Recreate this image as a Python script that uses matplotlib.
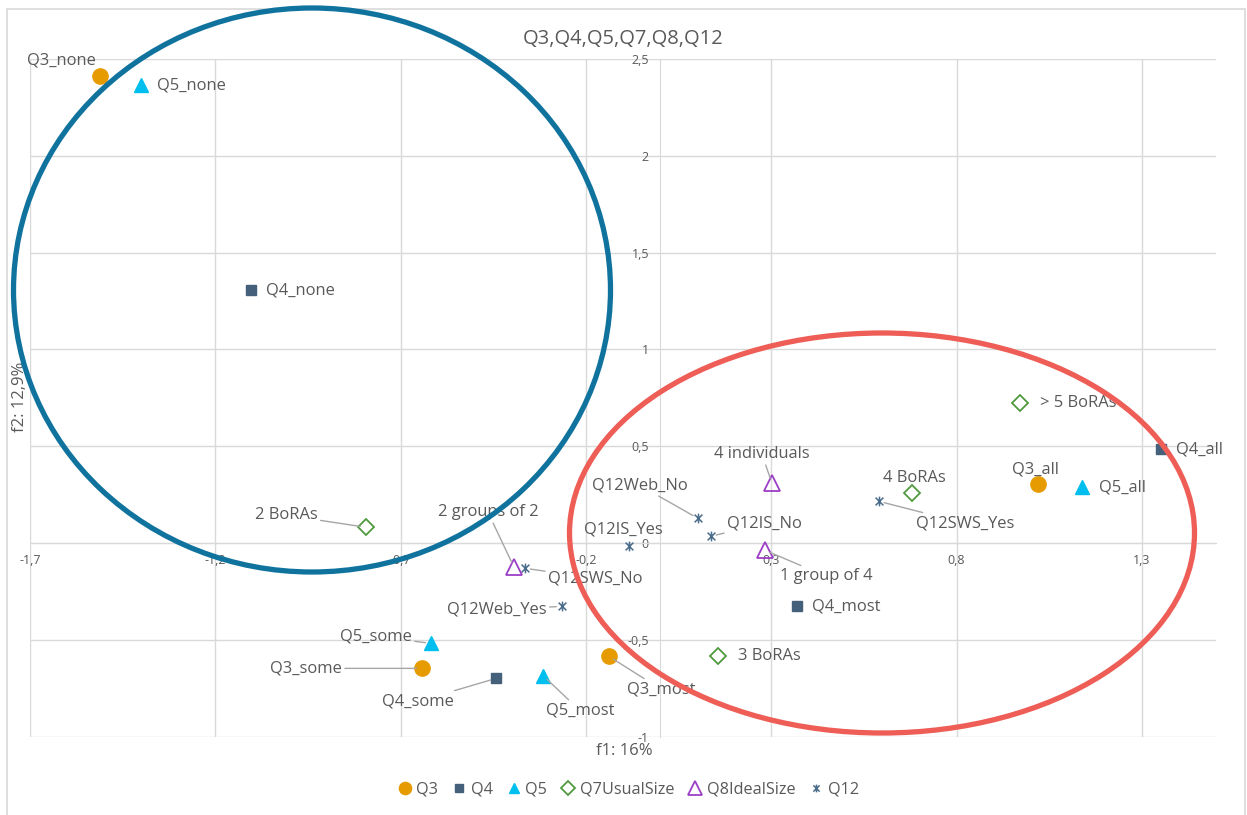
import matplotlib
matplotlib.use("Agg")
import matplotlib.pyplot as plt
from matplotlib.patches import Ellipse, Rectangle
from matplotlib.path import Path

plt.rcParams['font.family'] = ['Open Sans', 'DejaVu Sans']

# ---------------- data ----------------
q3_labels = ["Q3_none", "Q3_some", "Q3_most", "Q3_all"]
q3_x = [-1.511, -0.642, -0.138, 1.019]
q3_y = [2.412, -0.648, -0.586, 0.303]

q4_labels = ["Q4_none", "Q4_some", "Q4_most", "Q4_all"]
q4_x = [-1.104, -0.443, 0.369, 1.351]
q4_y = [1.306, -0.700, -0.328, 0.484]

q5_labels = ["Q5_none", "Q5_some", "Q5_most", "Q5_all"]
q5_x = [-1.401, -0.618, -0.316, 1.138]
q5_y = [2.365, -0.519, -0.685, 0.287]

q7_labels = ["2 BoRAs", "3 BoRAs", "4 BoRAs", "> 5 BoRAs"]
q7_x = [-0.794, 0.156, 0.679, 0.971]
q7_y = [0.081, -0.586, 0.256, 0.722]

q8_labels = ["2 groups of 2", "4 individuals", "1 group of 4"]
q8_x = [-0.394, 0.302, 0.283]
q8_y = [-0.126, 0.308, -0.038]

q12_labels = ["Q12Web_No", "Q12IS_No", "Q12IS_Yes", "Q12SWS_No", "Q12Web_Yes", "Q12SWS_Yes"]
q12_x = [0.102, 0.137, -0.084, -0.365, -0.265, 0.590]
q12_y = [0.127, 0.034, -0.018, -0.131, -0.328, 0.215]

x_ticks = [-1.7, -1.2, -0.7, -0.2, 0.3, 0.8, 1.3]
y_ticks = [-1, -0.5, 0, 0.5, 1, 1.5, 2, 2.5]

title = "Q3,Q4,Q5,Q7,Q8,Q12"
x_label = "f1: 16%"
y_label = "f2: 12,9%"

# ---------------- layout: label offsets (pixels), alignment, leader ----------------
label_layout = {
    "Q3_none": (-39, 16, "center", False),
    "Q5_none": (16, 0, "left", False),
    "Q4_none": (15, 0, "left", False),
    "2 BoRAs": (-48, 12, "right", True),
    "2 groups of 2": (-26, 55, "center", True),
    "Q12SWS_No": (23, -10, "left", True),
    "Q12Web_Yes": (-15, -3, "right", True),
    "Q12IS_Yes": (-6, 17, "center", False),
    "Q12Web_No": (-58, 33, "center", True),
    "Q12IS_No": (16, 13, "left", True),
    "4 individuals": (-10, 29, "center", True),
    "1 group of 4": (15, -26, "left", True),
    "Q4_most": (15, 0, "left", False),
    "3 BoRAs": (20, 0, "left", False),
    "Q12SWS_Yes": (37, -22, "left", True),
    "4 BoRAs": (3, 15, "center", False),
    "> 5 BoRAs": (20, 0, "left", False),
    "Q3_all": (-2, 15, "center", False),
    "Q5_all": (17, 0, "left", False),
    "Q4_all": (15, 0, "left", False),
    "Q5_some": (-19, 7, "right", True),
    "Q3_some": (-80, 0, "right", True),
    "Q4_some": (-42, -23, "right", True),
    "Q5_most": (37, -35, "center", True),
    "Q3_most": (18, -33, "left", True),
}

W, H = 1247, 815
fig = plt.figure(figsize=(W / 100, H / 100), dpi=100)
fig.patch.set_facecolor("white")
ax = fig.add_axes([30 / W, 1 - 736.5 / H, (1216 - 30) / W, (736.5 - 59) / H])

text_col = "#595959"
grid_col = "#D9D9D9"
lab_fs = 11.9

# chart-area border
fig.patches.append(Rectangle((7 / W, -0.05), (1245 - 7) / W, (H - 9) / H + 0.05,
                             transform=fig.transFigure, fill=False,
                             edgecolor="#D9D9D9", linewidth=1.2, zorder=0))

star = Path([(-1, -1), (1, 1), (-1, 1), (1, -1), (0, -1.25), (0, 1.25)],
            [Path.MOVETO, Path.LINETO, Path.MOVETO, Path.LINETO, Path.MOVETO, Path.LINETO])

series = [
    ("Q3", q3_x, q3_y, q3_labels, dict(marker="o", ms=11, mfc="#E69B00", mec="#E69B00")),
    ("Q4", q4_x, q4_y, q4_labels, dict(marker="s", ms=6.5, mfc="#44607A", mec="#44607A")),
    ("Q5", q5_x, q5_y, q5_labels, dict(marker="^", ms=9.5, mfc="#00BFEF", mec="#00BFEF")),
    ("Q7UsualSize", q7_x, q7_y, q7_labels, dict(marker="D", ms=8.5, mfc="none", mec="#4F9A3D", mew=1.3)),
    ("Q8IdealSize", q8_x, q8_y, q8_labels, dict(marker="^", ms=12, mfc="none", mec="#9B3FC6", mew=1.3)),
    ("Q12", q12_x, q12_y, q12_labels, dict(marker=star, ms=7, mfc="none", mec="#4A6D8C", mew=1.1)),
]

handles = []
for name, xs, ys, labs, st in series:
    h, = ax.plot(xs, ys, linestyle="none", label=name, zorder=5, **st)
    handles.append(h)
    for x, y, lab in zip(xs, ys, labs):
        dx, dy, ha, leader = label_layout[lab]
        kw = {}
        if leader:
            kw["arrowprops"] = dict(arrowstyle="-", color="#A6A6A6", lw=1.0,
                                    shrinkA=0, shrinkB=4)
        ax.annotate(lab, (x, y), xytext=(dx, dy), textcoords="offset pixels",
                    ha=ha, va="center", fontsize=lab_fs, color=text_col, zorder=6, **kw)

ax.set_xlim(-1.7, 1.5)
ax.set_ylim(-1, 2.5)
ax.set_xticks(x_ticks)
ax.set_yticks(y_ticks)
ax.set_xticklabels([f"{v:g}".replace(".", ",") for v in x_ticks])
ax.set_yticklabels([f"{v:g}".replace(".", ",") for v in y_ticks])
ax.grid(True, color=grid_col, linewidth=1.0, zorder=0)
ax.set_axisbelow(True)
for s in ["top", "right"]:
    ax.spines[s].set_visible(False)
ax.spines["left"].set_position(("data", 0))
ax.spines["bottom"].set_position(("data", 0))
ax.spines["left"].set_color(grid_col)
ax.spines["bottom"].set_color(grid_col)
ax.tick_params(axis="both", length=0, labelsize=9, labelcolor=text_col)
ax.tick_params(axis="x", pad=8)
ax.tick_params(axis="y", pad=8)

ax.set_title(title, fontsize=14.5, color=text_col, pad=11)
fig.text(624 / W, 1 - 751 / H, x_label, ha="center", va="center", fontsize=12, color=text_col)
fig.text(20 / W, 1 - 397 / H, y_label, ha="center", va="center", rotation=90,
         fontsize=12, color=text_col)

fig.legend(handles=handles, loc="center", bbox_to_anchor=(629 / W, 1 - 790 / H),
           ncol=6, frameon=False, fontsize=11.7, labelcolor=text_col,
           handlelength=0.7, handletextpad=0.35, columnspacing=0.95, markerscale=0.8)

# highlight ellipses
fig.patches.append(Ellipse((312 / W, 1 - 290 / H), 597 / W, 564 / H, transform=fig.transFigure,
                           fill=False, edgecolor="#10739E", linewidth=3.8, zorder=10))
fig.patches.append(Ellipse((882 / W, 1 - 533 / H), 625 / W, 400 / H, transform=fig.transFigure,
                           fill=False, edgecolor="#EE5E57", linewidth=3.8, zorder=10))

fig.savefig("out.png", dpi=100, facecolor="white")
